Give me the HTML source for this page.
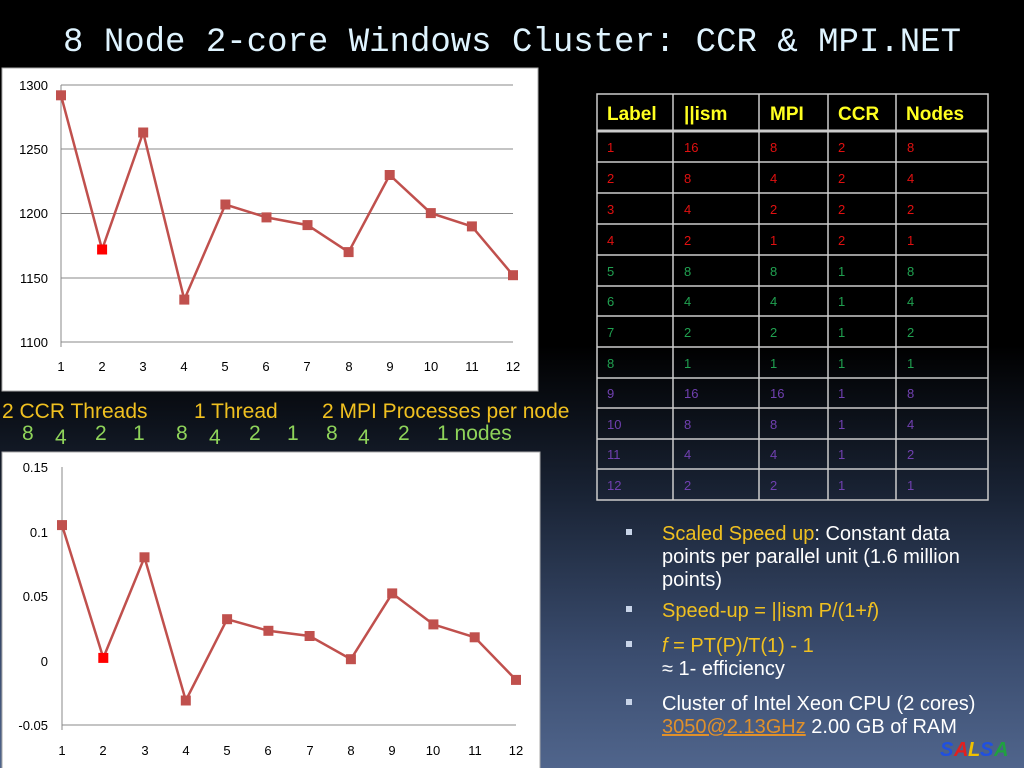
<!DOCTYPE html>
<html><head><meta charset="utf-8"><style>
html,body{margin:0;padding:0;}
body{width:1024px;height:768px;overflow:hidden;background:linear-gradient(to bottom,#000 0%,#000 45%,#1a2436 65%,#3a4c6e 85%,#50658c 100%);font-family:"Liberation Sans",sans-serif;}
svg{position:absolute;left:0;top:0;}
</style></head><body>
<svg width="1024" height="768" viewBox="0 0 1024 768" font-family="Liberation Sans, sans-serif">
<text x="512" y="51" text-anchor="middle" font-family="Liberation Mono, monospace" font-size="34" fill="#dff4ff" textLength="898" lengthAdjust="spacingAndGlyphs">8 Node 2-core Windows Cluster: CCR &amp; MPI.NET</text>

<!-- chart 1 -->
<rect x="2" y="68" width="536" height="323" fill="#fff" stroke="#aaa"/>
<g stroke="#888" stroke-width="1">
<line x1="61" y1="85" x2="513" y2="85"/><line x1="61" y1="149" x2="513" y2="149"/><line x1="61" y1="213.5" x2="513" y2="213.5"/><line x1="61" y1="278" x2="513" y2="278"/><line x1="61" y1="342" x2="513" y2="342"/>
<line x1="61" y1="85" x2="61" y2="347"/>
</g>
<g font-size="13" fill="#000" text-anchor="end">
<text x="48" y="90">1300</text><text x="48" y="154">1250</text><text x="48" y="218">1200</text><text x="48" y="283">1150</text><text x="48" y="347">1100</text></g>
<g font-size="13" fill="#000" text-anchor="middle">
<text x="61" y="371">1</text><text x="102" y="371">2</text><text x="143" y="371">3</text><text x="184" y="371">4</text><text x="225" y="371">5</text><text x="266" y="371">6</text><text x="307" y="371">7</text><text x="349" y="371">8</text><text x="390" y="371">9</text><text x="431" y="371">10</text><text x="472" y="371">11</text><text x="513" y="371">12</text></g>
<polyline fill="none" stroke="#c0504d" stroke-width="2.5" points="61,95.3 102.1,249.5 143.2,132.5 184.3,299.6 225.4,204.5 266.5,217.4 307.5,225.1 348.6,252.1 389.7,175 430.8,213.1 471.9,226.4 513,275.2"/>
<g fill="#c0504d">
<rect x="56" y="90.3" width="10" height="10"/><rect x="97.1" y="244.5" width="10" height="10" fill="#f00"/><rect x="138.2" y="127.5" width="10" height="10"/><rect x="179.3" y="294.6" width="10" height="10"/><rect x="220.4" y="199.5" width="10" height="10"/><rect x="261.5" y="212.4" width="10" height="10"/><rect x="302.5" y="220.1" width="10" height="10"/><rect x="343.6" y="247.1" width="10" height="10"/><rect x="384.7" y="170" width="10" height="10"/><rect x="425.8" y="208.1" width="10" height="10"/><rect x="466.9" y="221.4" width="10" height="10"/><rect x="508" y="270.2" width="10" height="10"/></g>

<!-- labels between charts -->
<g font-size="21" fill="#f0c020">
<text x="2" y="418">2 CCR Threads</text><text x="194" y="418">1 Thread</text><text x="322" y="418">2 MPI Processes per node</text></g>
<g font-size="21" fill="#8fd45a">
<text x="22" y="440">8</text><text x="55" y="444">4</text><text x="95" y="440">2</text><text x="133" y="440">1</text><text x="176" y="440">8</text><text x="209" y="444">4</text><text x="249" y="440">2</text><text x="287" y="440">1</text><text x="326" y="440">8</text><text x="358" y="444">4</text><text x="398" y="440">2</text><text x="437" y="440">1 nodes</text></g>

<!-- chart 2 -->
<rect x="2" y="452" width="538" height="320" fill="#fff" stroke="#aaa"/>
<g stroke="#888" stroke-width="1">
<line x1="62" y1="467" x2="62" y2="730"/><line x1="62" y1="725" x2="516" y2="725"/>
</g>
<g font-size="13" fill="#000" text-anchor="end">
<text x="48" y="472">0.15</text><text x="48" y="537">0.1</text><text x="48" y="601">0.05</text><text x="48" y="666">0</text><text x="48" y="730">-0.05</text></g>
<g font-size="13" fill="#000" text-anchor="middle">
<text x="62" y="755">1</text><text x="103" y="755">2</text><text x="145" y="755">3</text><text x="186" y="755">4</text><text x="227" y="755">5</text><text x="268" y="755">6</text><text x="310" y="755">7</text><text x="351" y="755">8</text><text x="392" y="755">9</text><text x="433" y="755">10</text><text x="475" y="755">11</text><text x="516" y="755">12</text></g>
<polyline fill="none" stroke="#c0504d" stroke-width="2.5" points="62,525.1 103.3,657.9 144.5,557.3 185.8,700.5 227.1,619.2 268.4,630.8 309.6,636 350.9,659.2 392.2,593.4 433.4,624.4 474.7,637.3 516,679.9"/>
<g fill="#c0504d">
<rect x="57" y="520.1" width="10" height="10"/><rect x="98.3" y="652.9" width="10" height="10" fill="#f00"/><rect x="139.5" y="552.3" width="10" height="10"/><rect x="180.8" y="695.5" width="10" height="10"/><rect x="222.1" y="614.2" width="10" height="10"/><rect x="263.4" y="625.8" width="10" height="10"/><rect x="304.6" y="631" width="10" height="10"/><rect x="345.9" y="654.2" width="10" height="10"/><rect x="387.2" y="588.4" width="10" height="10"/><rect x="428.4" y="619.4" width="10" height="10"/><rect x="469.7" y="632.3" width="10" height="10"/><rect x="511" y="674.9" width="10" height="10"/></g>

<!-- table -->
<g stroke="#ccc" stroke-width="1.5" fill="none">
<rect x="597" y="94" width="391" height="406"/>
<line x1="673" y1="94" x2="673" y2="500"/><line x1="759" y1="94" x2="759" y2="500"/><line x1="828" y1="94" x2="828" y2="500"/><line x1="896" y1="94" x2="896" y2="500"/>
<line x1="597" y1="131" x2="988" y2="131" stroke-width="3"/>
<line x1="597" y1="162" x2="988" y2="162"/><line x1="597" y1="193" x2="988" y2="193"/><line x1="597" y1="224" x2="988" y2="224"/><line x1="597" y1="255" x2="988" y2="255"/><line x1="597" y1="286" x2="988" y2="286"/><line x1="597" y1="316" x2="988" y2="316"/><line x1="597" y1="347" x2="988" y2="347"/><line x1="597" y1="378" x2="988" y2="378"/><line x1="597" y1="408" x2="988" y2="408"/><line x1="597" y1="439" x2="988" y2="439"/><line x1="597" y1="469" x2="988" y2="469"/>
</g>
<g font-size="19" fill="#ffff20" font-weight="bold">
<text x="607" y="120">Label</text><text x="684" y="120">||ism</text><text x="770" y="120">MPI</text><text x="838" y="120">CCR</text><text x="906" y="120">Nodes</text></g>
<g font-size="13" fill="#e01010">
<text x="607" y="152">1</text><text x="684" y="152">16</text><text x="770" y="152">8</text><text x="838" y="152">2</text><text x="907" y="152">8</text>
<text x="607" y="183">2</text><text x="684" y="183">8</text><text x="770" y="183">4</text><text x="838" y="183">2</text><text x="907" y="183">4</text>
<text x="607" y="214">3</text><text x="684" y="214">4</text><text x="770" y="214">2</text><text x="838" y="214">2</text><text x="907" y="214">2</text>
<text x="607" y="245">4</text><text x="684" y="245">2</text><text x="770" y="245">1</text><text x="838" y="245">2</text><text x="907" y="245">1</text></g>
<g font-size="13" fill="#20a050">
<text x="607" y="276">5</text><text x="684" y="276">8</text><text x="770" y="276">8</text><text x="838" y="276">1</text><text x="907" y="276">8</text>
<text x="607" y="306">6</text><text x="684" y="306">4</text><text x="770" y="306">4</text><text x="838" y="306">1</text><text x="907" y="306">4</text>
<text x="607" y="337">7</text><text x="684" y="337">2</text><text x="770" y="337">2</text><text x="838" y="337">1</text><text x="907" y="337">2</text>
<text x="607" y="368">8</text><text x="684" y="368">1</text><text x="770" y="368">1</text><text x="838" y="368">1</text><text x="907" y="368">1</text></g>
<g font-size="13" fill="#7040b0">
<text x="607" y="398">9</text><text x="684" y="398">16</text><text x="770" y="398">16</text><text x="838" y="398">1</text><text x="907" y="398">8</text>
<text x="607" y="429">10</text><text x="684" y="429">8</text><text x="770" y="429">8</text><text x="838" y="429">1</text><text x="907" y="429">4</text>
<text x="607" y="459">11</text><text x="684" y="459">4</text><text x="770" y="459">4</text><text x="838" y="459">1</text><text x="907" y="459">2</text>
<text x="607" y="490">12</text><text x="684" y="490">2</text><text x="770" y="490">2</text><text x="838" y="490">1</text><text x="907" y="490">1</text></g>

<!-- bullets -->
<g fill="#c8d4e8"><rect x="626" y="529" width="6" height="6"/><rect x="626" y="606" width="6" height="6"/><rect x="626" y="641" width="6" height="6"/><rect x="626" y="699" width="6" height="6"/></g>
<g font-size="20" fill="#ffffff">
<text x="662" y="540"><tspan fill="#f0c020">Scaled Speed up</tspan>: Constant data</text>
<text x="662" y="563">points per parallel unit (1.6 million</text>
<text x="662" y="586">points)</text>
<text x="662" y="617" fill="#f0c020">Speed-up = ||ism P/(1+<tspan font-style="italic">f</tspan>)</text>
<text x="662" y="652" fill="#f0c020"><tspan font-style="italic">f</tspan> = PT(P)/T(1)  - 1</text>
<text x="662" y="675">≈ 1- efficiency</text>
<text x="662" y="710">Cluster of Intel Xeon CPU (2 cores)</text>
<text x="662" y="733"><tspan fill="#e0902a" text-decoration="underline">3050@2.13GHz</tspan> 2.00 GB of RAM</text>
</g>
<g font-size="20" font-weight="bold" font-style="italic">
<text x="940" y="756" fill="#2050e0">S</text><text x="954" y="756" fill="#e02020">A</text><text x="968" y="756" fill="#f0c000">L</text><text x="980" y="756" fill="#2050e0">S</text><text x="994" y="756" fill="#20a040">A</text></g>
</svg>
</body></html>
